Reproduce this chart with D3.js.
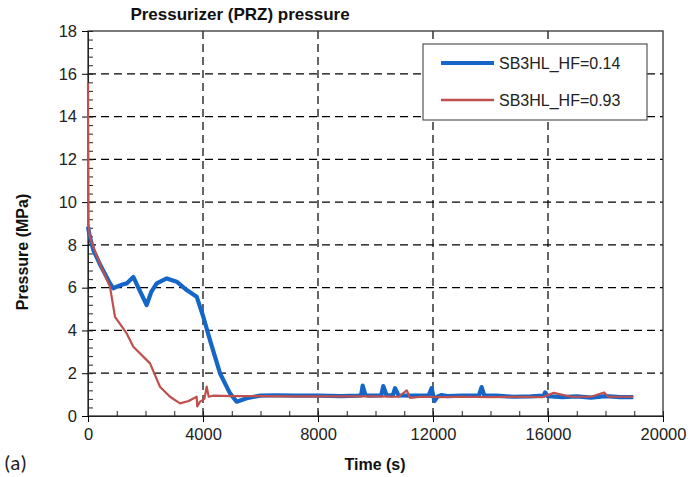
<!DOCTYPE html>
<html>
<head>
<meta charset="utf-8">
<script src="https://cdn.jsdelivr.net/npm/d3@7"></script>
<style>
  body { margin: 0; background: #fff; }
  svg { font-family: "Liberation Sans", Arial, sans-serif; }
</style>
</head>
<body>
<div id="chart"></div>
<script>
// data (time in s, pressure in MPa)
const blueTime = [0, 60, 185, 450, 765, 880, 1000, 1200, 1345, 1576, 1750, 2040, 2200, 2390, 2737, 3085, 3433, 3780, 4010, 4243, 4590, 4939, 5170, 5520, 5983, 6500, 7200, 8000, 8800, 9400, 9500, 9553, 9650, 9750, 10200, 10270, 10380, 10600, 10680, 10800, 11300, 11850, 11950, 12050, 12150, 12300, 12500, 13000, 13600, 13690, 13780, 14200, 14800, 15400, 15850, 15900, 15980, 16500, 17000, 17500, 18000, 18500, 18967];
const blueVal  = [8.85, 8.4, 7.76, 7.0, 6.2, 5.97, 6.05, 6.15, 6.2, 6.5, 6.0, 5.19, 5.8, 6.2, 6.43, 6.28, 5.89, 5.58, 4.64, 3.55, 2.0, 1.06, 0.67, 0.83, 0.95, 0.97, 0.95, 0.95, 0.93, 0.95, 0.96, 1.42, 0.98, 0.95, 0.96, 1.4, 0.98, 0.95, 1.3, 0.96, 0.95, 0.96, 1.3, 0.7, 0.9, 0.98, 0.93, 0.95, 0.96, 1.35, 0.97, 0.95, 0.9, 0.92, 0.95, 1.1, 0.93, 0.88, 0.92, 0.86, 0.93, 0.88, 0.88];

const redTime = [0, 20, 60, 185, 450, 765, 939, 1345, 1576, 2157, 2504, 2852, 3200, 3500, 3780, 3800, 3896, 4050, 4128, 4200, 4359, 5000, 6000, 7000, 8000, 9000, 10000, 10800, 11090, 11200, 11600, 12300, 13000, 14000, 15000, 15800, 16200, 16800, 17500, 17950, 18100, 18500, 18967];
const redVal  = [15.57, 9.0, 8.4, 7.9, 7.0, 6.04, 4.64, 3.86, 3.24, 2.46, 1.37, 0.9, 0.59, 0.7, 0.9, 0.45, 0.67, 0.8, 1.37, 0.9, 0.95, 0.93, 0.93, 0.92, 0.92, 0.92, 0.92, 0.9, 1.2, 0.85, 0.9, 0.88, 0.9, 0.88, 0.9, 0.88, 1.08, 0.9, 0.9, 1.1, 0.9, 0.9, 0.9];

const seriesNames = ["SB3HL_HF=0.14", "SB3HL_HF=0.93"];
const seriesColors = ["#1466c8", "#c0504d"];
const xTicks = [0, 4000, 8000, 12000, 16000, 20000];
const yTicks = [0, 2, 4, 6, 8, 10, 12, 14, 16, 18];

const width = 691, height = 477;
const margin = {top: 31, left: 88, bottom: 61, right: 28};

const svg = d3.select('#chart').append('svg')
  .attr('width', width).attr('height', height);

const x = d3.scaleLinear().domain([0, 20000]).range([margin.left, width - margin.right]);
const y = d3.scaleLinear().domain([0, 18]).range([height - margin.bottom, margin.top]);

// grid
const grid = svg.append('g').attr('stroke', '#000').attr('stroke-width', 1.2).attr('stroke-dasharray', '8,5');
grid.selectAll('.gx').data(xTicks.slice(1, -1)).enter().append('line')
  .attr('x1', d => x(d)).attr('x2', d => x(d))
  .attr('y1', y(18)).attr('y2', y(0));
grid.selectAll('.gy').data(yTicks.slice(1, -1)).enter().append('line')
  .attr('y1', d => y(d)).attr('y2', d => y(d))
  .attr('x1', x(0)).attr('x2', x(20000));

// frame
svg.append('rect')
  .attr('x', x(0)).attr('y', y(18))
  .attr('width', x(20000) - x(0)).attr('height', y(0) - y(18))
  .attr('fill', 'none').attr('stroke', '#333').attr('stroke-width', 1.3);

// minor (inward) ticks
svg.append('g')
  .attr('transform', `translate(${x(0)},0)`)
  .call(d3.axisLeft(y).tickValues(d3.range(0, 18.01, 0.4)).tickSize(-5).tickFormat(''))
  .call(g => g.select('.domain').remove())
  .call(g => g.selectAll('line').attr('stroke', '#222'));
svg.append('g')
  .attr('transform', `translate(0,${y(0)})`)
  .call(d3.axisBottom(x).tickValues(d3.range(0, 20001, 1000)).tickSize(-5).tickFormat(''))
  .call(g => g.select('.domain').remove())
  .call(g => g.selectAll('line').attr('stroke', '#222'));

// major axes
const yAxis = svg.append('g')
  .attr('transform', `translate(${x(0)},0)`)
  .call(d3.axisLeft(y).tickValues(yTicks).tickSize(6).tickPadding(5))
  .attr('font-family', null)
  .call(g => g.select('.domain').attr('stroke', '#222'));
yAxis.selectAll('text').attr('font-size', 16.5).attr('fill', '#222');

const xAxis = svg.append('g')
  .attr('transform', `translate(0,${y(0)})`)
  .call(d3.axisBottom(x).tickValues(xTicks).tickFormat(d3.format('d')).tickSize(6).tickPadding(6))
  .attr('font-family', null)
  .call(g => g.select('.domain').attr('stroke', '#222'));
xAxis.selectAll('text').attr('font-size', 16.5).attr('fill', '#222');

// lines
const line = d3.line().x(d => x(d[0])).y(d => y(d[1]));
const blueData = blueTime.map((t, i) => [t, blueVal[i]]);
const redData = redTime.map((t, i) => [t, redVal[i]]);

svg.append('path').datum(blueData)
  .attr('d', line).attr('fill', 'none')
  .attr('stroke', seriesColors[0]).attr('stroke-width', 4.2).attr('stroke-linejoin', 'round');
svg.append('path').datum(redData)
  .attr('d', line).attr('fill', 'none')
  .attr('stroke', seriesColors[1]).attr('stroke-width', 2.2).attr('stroke-linejoin', 'round');

// legend
const lg = svg.append('g');
lg.append('rect').attr('x', 423).attr('y', 44).attr('width', 224).attr('height', 76)
  .attr('fill', '#fff').attr('stroke', '#555').attr('stroke-width', 1.2);
seriesNames.forEach((n, i) => {
  const ly = 63 + i * 37;
  lg.append('line').attr('x1', 441).attr('x2', 494).attr('y1', ly).attr('y2', ly)
    .attr('stroke', seriesColors[i]).attr('stroke-width', i === 0 ? 4 : 2.5);
  lg.append('text').attr('x', 499).attr('y', ly + 6).attr('font-size', 16).attr('fill', '#222')
    .text(n);
});

// titles
svg.append('text').attr('x', 240).attr('y', 20).attr('text-anchor', 'middle')
  .attr('font-size', 17).attr('font-weight', 'bold').attr('fill', '#111')
  .text('Pressurizer (PRZ) pressure');
svg.append('text').attr('x', 375).attr('y', 470).attr('text-anchor', 'middle')
  .attr('font-size', 16).attr('font-weight', 'bold').attr('fill', '#111')
  .text('Time (s)');
svg.append('text').attr('transform', 'translate(28,252) rotate(-90)').attr('text-anchor', 'middle')
  .attr('font-size', 16).attr('font-weight', 'bold').attr('fill', '#111')
  .text('Pressure (MPa)');
svg.append('text').attr('x', 4).attr('y', 470)
  .attr('font-family', 'Carlito, Calibri, "Open Sans", sans-serif').attr('font-size', 21).attr('fill', '#222')
  .text('(a)');
</script>
</body>
</html>
